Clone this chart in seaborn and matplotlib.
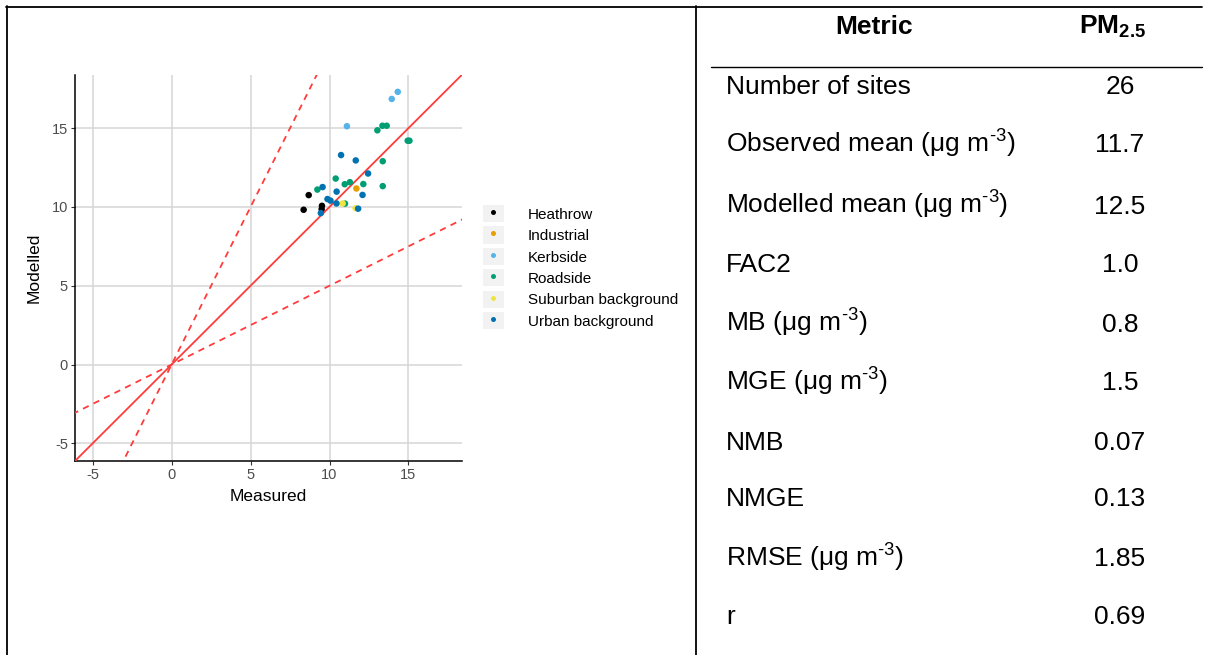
import matplotlib
matplotlib.use("Agg")
import matplotlib.pyplot as plt
from matplotlib.lines import Line2D
from matplotlib.patches import Rectangle
import seaborn as sns
import pandas as pd

# ---------------- data ----------------
categories = ["Heathrow", "Industrial", "Kerbside", "Roadside",
              "Suburban background", "Urban background"]
colors = ["#000000", "#E69F00", "#56B4E9", "#009E73", "#F0E442", "#0072B2"]

heathrow_meas = [8.36, 8.68, 9.52, 9.50]
heathrow_mod = [9.82, 10.75, 10.07, 9.86]
industrial_meas = [11.70]
industrial_mod = [11.17]
kerbside_meas = [14.32, 13.94, 11.10]
kerbside_mod = [17.30, 16.85, 15.12]
roadside_meas = [13.03, 13.35, 13.62, 14.95, 15.06, 13.37, 13.37, 10.39,
                 9.23, 10.96, 11.29, 12.14, 10.98]
roadside_mod = [14.86, 15.15, 15.15, 14.20, 14.20, 12.90, 11.32, 11.80,
                11.10, 11.44, 11.57, 11.45, 10.21]
suburban_meas = [10.83, 11.65]
suburban_mod = [10.22, 9.92]
urban_meas = [10.73, 11.66, 12.44, 9.56, 10.45, 9.87, 10.06, 12.09, 10.44,
              11.81, 9.45]
urban_mod = [13.29, 12.95, 12.12, 11.26, 10.97, 10.50, 10.40, 10.76, 10.22,
             9.89, 9.61]

axis_ticks = [-5, 0, 5, 10, 15]
axis_limits = (-6.12, 18.37)
ref_slopes = [1.0, 2.0, 0.5]

table_metrics = ["Number of sites",
                 "Observed mean (μg m$^{\\text{-}3}$)",
                 "Modelled mean (μg m$^{\\text{-}3}$)",
                 "FAC2",
                 "MB (μg m$^{\\text{-}3}$)",
                 "MGE (μg m$^{\\text{-}3}$)",
                 "NMB",
                 "NMGE",
                 "RMSE (μg m$^{\\text{-}3}$)",
                 "r"]
table_values = ["26", "11.7", "12.5", "1.0", "0.8", "1.5", "0.07", "0.13",
                "1.85", "0.69"]

# ---------------- build frame ----------------
meas = [heathrow_meas, industrial_meas, kerbside_meas, roadside_meas,
        suburban_meas, urban_meas]
mods = [heathrow_mod, industrial_mod, kerbside_mod, roadside_mod,
        suburban_mod, urban_mod]
rows = []
for cat, xs, ys in zip(categories, meas, mods):
    for x, y in zip(xs, ys):
        rows.append({"Measured": x, "Modelled": y, "type": cat})
df = pd.DataFrame(rows)

sns.set_style("white")
plt.rcParams["font.family"] = ["Liberation Sans", "DejaVu Sans"]
plt.rcParams["mathtext.fontset"] = "custom"
plt.rcParams["mathtext.rm"] = "Liberation Sans"
plt.rcParams["mathtext.it"] = "Liberation Sans:italic"
plt.rcParams["mathtext.bf"] = "Liberation Sans:bold"
plt.rcParams["axes.unicode_minus"] = False
plt.rcParams["text.color"] = "black"
plt.rcParams["axes.labelcolor"] = "black"

W, H = 1212, 655
fig = plt.figure(figsize=(W / 100, H / 100), dpi=100)
fig.patch.set_facecolor("white")

# axes in pixel placement
ax_l, ax_r, ax_t, ax_b = 75, 461.7, 75, 461
ax = fig.add_axes([ax_l / W, 1 - ax_b / H, (ax_r - ax_l) / W, (ax_b - ax_t) / H])
ax.set_facecolor("white")

palette = dict(zip(categories, colors))
sns.scatterplot(data=df, x="Measured", y="Modelled", hue="type",
                hue_order=categories, palette=palette, s=22, linewidth=0,
                legend=False, ax=ax, zorder=5)

# reference lines
xx = [axis_limits[0] * 3, axis_limits[1] * 3]
for slope in ref_slopes:
    ls = "-" if slope == 1.0 else (0, (3.5, 3))
    ax.plot(xx, [slope * v for v in xx], color="#FF3B3B", lw=1.3,
            linestyle=ls, zorder=4)

ax.set_xlim(axis_limits)
ax.set_ylim(axis_limits)
ax.set_xticks(axis_ticks)
ax.set_yticks(axis_ticks)
ax.grid(True, color="#D6D6D6", lw=1.1, zorder=0)
ax.set_axisbelow(True)
for side in ["top", "right"]:
    ax.spines[side].set_visible(False)
for side in ["left", "bottom"]:
    ax.spines[side].set_color("black")
    ax.spines[side].set_linewidth(1.1)
ax.tick_params(axis="both", which="both", length=3, width=0.8,
               color="#333333", labelsize=10.5, labelcolor="#4D4D4D", pad=2,
               left=True, bottom=True)
ax.set_xlabel("Measured", fontsize=12.5, labelpad=5)
ax.set_ylabel("Modelled", fontsize=12.5, labelpad=7)

# legend (ggplot-like grey keys)
handles = []
for c in colors:
    bg = Rectangle((0, 0), 1, 1, facecolor="#F2F2F2", edgecolor="none")
    dot = Line2D([], [], marker="o", linestyle="none", color=c,
                 markersize=3.6, markeredgewidth=0)
    handles.append((bg, dot))
fig.legend(handles, categories, loc="upper left",
           bbox_to_anchor=(483 / W, 1 - 205 / H), frameon=False,
           fontsize=11, handlelength=1.35, handleheight=1.35,
           handletextpad=1.6, labelspacing=0.28, borderpad=0,
           borderaxespad=0)

# ---------------- table / frame lines ----------------
def hline(y, x0, x1, lw):
    fig.add_artist(Line2D([x0 / W, x1 / W], [1 - y / H, 1 - y / H],
                          color="black", lw=lw, transform=fig.transFigure))

def vline(x, y0, y1, lw):
    fig.add_artist(Line2D([x / W, x / W], [1 - y0 / H, 1 - y1 / H],
                          color="black", lw=lw, transform=fig.transFigure))

hline(7, 6.3, 1202, 1.3)
vline(7, 6.3, 656, 1.3)
vline(695.5, 6.3, 656, 1.3)
hline(67, 711, 1202, 1.0)

fig.text(874 / W, 1 - 34 / H, "Metric", fontsize=19, fontweight="bold",
         ha="center", va="baseline")
fig.text(1112 / W, 1 - 34 / H, r"$\mathbf{PM_{2.5}}$", fontsize=19,
         ha="center", va="baseline")

row_y = [84, 143, 204, 262, 322, 381, 440, 497, 557, 615]
for y, lab, val in zip(row_y, table_metrics, table_values):
    fig.text(726 / W, 1 - (y + 9.5) / H, lab, fontsize=19, ha="left",
             va="baseline")
    fig.text(1120 / W, 1 - (y + 9.5) / H, val, fontsize=19, ha="center",
             va="baseline")

fig.savefig("out.png", dpi=100, facecolor="white")
